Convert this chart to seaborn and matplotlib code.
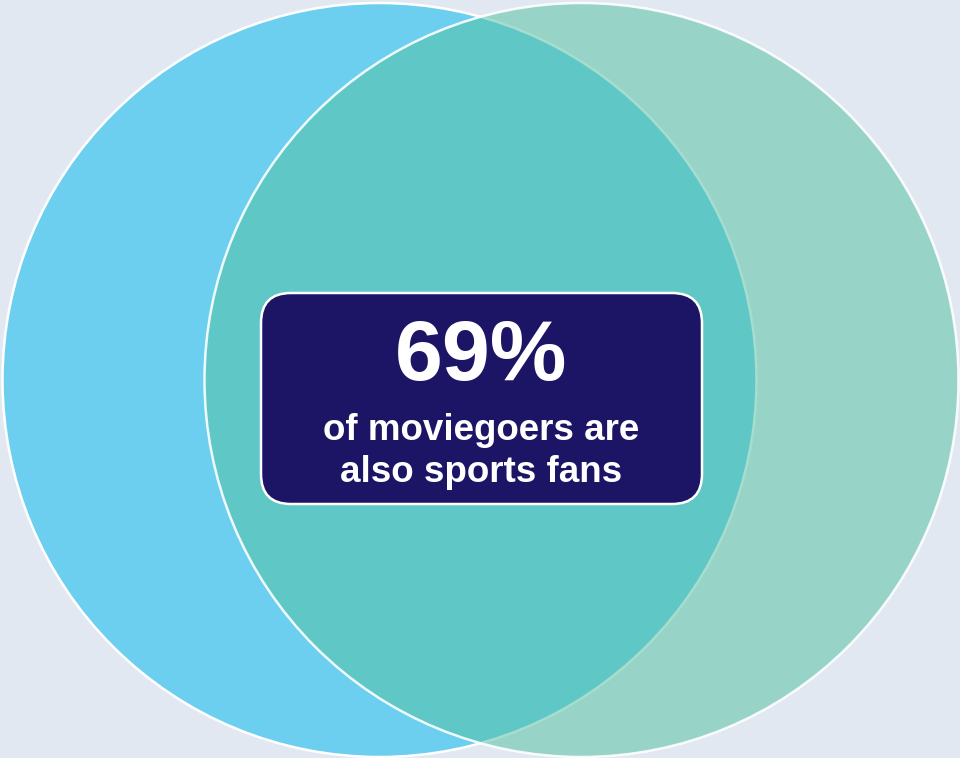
import matplotlib
matplotlib.use("Agg")
import matplotlib.pyplot as plt
from matplotlib.patches import Circle, FancyBboxPatch
import seaborn as sns

# Venn data
set_names = ["Moviegoers", "Sports fans"]
set_colors = ["#6ccff0", "#56c1a3"]
set_alpha = [1.0, 0.53]
overlap_pct = 69
headline = f"{overlap_pct}%"
caption_lines = ["of moviegoers are", "also sports fans"]

# layout (pixel units, y down)
centres = [(379.5, 380), (581.5, 380)]
radius = 377
bg = "#e2e8f2"

sns.set_theme(style="white")
plt.rcParams['font.family'] = ['Liberation Sans', 'DejaVu Sans']

fig = plt.figure(figsize=(9.6, 7.58), dpi=100)
fig.patch.set_facecolor(bg)
ax = fig.add_axes([0, 0, 1, 1])
ax.set_facecolor(bg)
ax.set_xlim(0, 960)
ax.set_ylim(758, 0)
ax.set_aspect('equal')
ax.axis('off')

for name, (cx, cy), col, a in zip(set_names, centres, set_colors, set_alpha):
    ax.add_patch(Circle((cx, cy), radius, facecolor=col, alpha=a,
                        edgecolor='none', label=name))
    ax.add_patch(Circle((cx, cy), radius, facecolor='none',
                        edgecolor='white', lw=1.8, alpha=1.0 if a == 1.0 else 0.9))

# callout box
box = FancyBboxPatch((261, 293), 441, 211,
                     boxstyle="round,pad=0,rounding_size=30",
                     facecolor="#1c1464", edgecolor="white", lw=1.8)
ax.add_patch(box)

ax.text(481.5, 358, headline, color='white', fontsize=62, fontweight='bold',
        ha='center', va='center')
ax.text(481.5, 431, caption_lines[0], color='white', fontsize=26.5,
        fontweight='bold', ha='center', va='center')
ax.text(481.5, 473, caption_lines[1], color='white', fontsize=26.5,
        fontweight='bold', ha='center', va='center')

fig.savefig("out.png", dpi=100, facecolor=bg)
